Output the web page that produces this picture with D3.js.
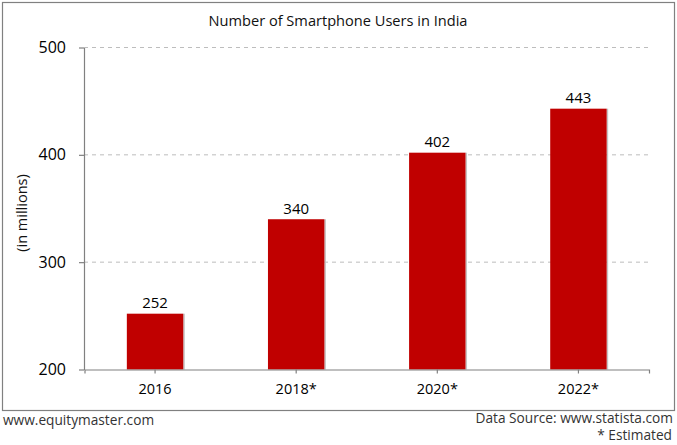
<!DOCTYPE html>
<html>
<head>
<meta charset="utf-8">
<script src="https://cdnjs.cloudflare.com/ajax/libs/d3/7.8.5/d3.min.js"></script>
<style>
body { margin: 0; background: #fff; }
text { font-family: "Open Sans", "Noto Sans", sans-serif; }
</style>
</head>
<body>
<div id="chart"></div>
<script>
// data
var years = ["2016", "2018*", "2020*", "2022*"];
var users = [252, 340, 402, 443];
var yTicks = [200, 300, 400, 500];

// set dimensions
var width = 677, height = 445;
var left = 84, right = 648.5, top_y = 47.5, bottom = 369.5;

var svg = d3.select("#chart")
            .append("svg")
            .attr("width", width)
            .attr("height", height)
            .style("display", "block");

// outer frame
svg.append("rect")
   .attr("x", 2.5).attr("y", 2.5)
   .attr("width", 672).attr("height", 408)
   .attr("fill", "#fff")
   .attr("stroke", "#808080")
   .attr("stroke-width", 1.2);

var x = d3.scaleBand().domain(years).range([left + 0.5, right + 0.5]).paddingInner(0.6).paddingOuter(0.3);
var y = d3.scaleLinear().domain([200, 500]).range([bottom, top_y]);

// gridlines
svg.append("g").selectAll("line")
   .data(yTicks.slice(1))
   .join("line")
   .attr("x1", left).attr("x2", right)
   .attr("y1", function(d){ return y(d); })
   .attr("y2", function(d){ return y(d); })
   .attr("stroke", "#bdbdbd")
   .attr("stroke-dasharray", "4,4");

// bar shadows, then bars
svg.append("g").selectAll("rect")
   .data(users)
   .join("rect")
   .attr("x", function(d, i){ return x(years[i]) + x.bandwidth(); })
   .attr("y", function(d){ return y(d); })
   .attr("width", 1.5)
   .attr("height", function(d){ return bottom - y(d); })
   .attr("fill", "#c4c4c4");

svg.append("g").selectAll("rect")
   .data(users)
   .join("rect")
   .attr("x", function(d, i){ return x(years[i]); })
   .attr("y", function(d){ return y(d); })
   .attr("width", x.bandwidth())
   .attr("height", function(d){ return bottom - y(d); })
   .attr("fill", "#c00000");

// value labels
svg.append("g").selectAll("text")
   .data(users)
   .join("text")
   .attr("x", function(d, i){ return x(years[i]) + x.bandwidth() / 2; })
   .attr("y", function(d){ return y(d) - 5.5; })
   .attr("text-anchor", "middle")
   .attr("font-size", "15px")
   .attr("fill", "#000")
   .text(function(d){ return d; });

// axes
var yAxis = svg.append("g")
   .attr("transform", "translate(" + left + ",0)")
   .call(d3.axisLeft(y).tickValues(yTicks).tickSize(5).tickSizeOuter(0).tickPadding(13));
yAxis.selectAll("text").attr("font-size", "16px").attr("fill", "#000").style("font-family", "Open Sans");

var xAxis = svg.append("g")
   .attr("transform", "translate(0," + bottom + ")")
   .call(d3.axisBottom(x).tickSize(4).tickSizeOuter(4).tickPadding(10));
xAxis.selectAll("text").attr("font-size", "14.5px").attr("fill", "#000").style("font-family", "Open Sans");

svg.selectAll(".domain, .tick line").attr("stroke", "#808080").attr("stroke-width", 1.2);

// title
svg.append("text")
   .attr("x", 338).attr("y", 26)
   .attr("text-anchor", "middle")
   .attr("font-size", "14.6px")
   .attr("fill", "#111")
   .text("Number of Smartphone Users in India");

// y axis label
svg.append("text")
   .attr("transform", "translate(27,213) rotate(-90)")
   .attr("text-anchor", "middle")
   .attr("font-size", "14.5px")
   .attr("fill", "#111")
   .text("(in millions)");

// footer
svg.append("text")
   .attr("x", 3).attr("y", 425)
   .attr("font-size", "13.7px")
   .attr("fill", "#333")
   .text("www.equitymaster.com");

svg.append("text")
   .attr("x", 673).attr("y", 423)
   .attr("text-anchor", "end")
   .attr("font-size", "13.7px")
   .attr("fill", "#333")
   .text("Data Source: www.statista.com");

svg.append("text")
   .attr("x", 672).attr("y", 440)
   .attr("text-anchor", "end")
   .attr("font-size", "13.7px")
   .attr("fill", "#333")
   .text("* Estimated");
</script>
</body>
</html>
